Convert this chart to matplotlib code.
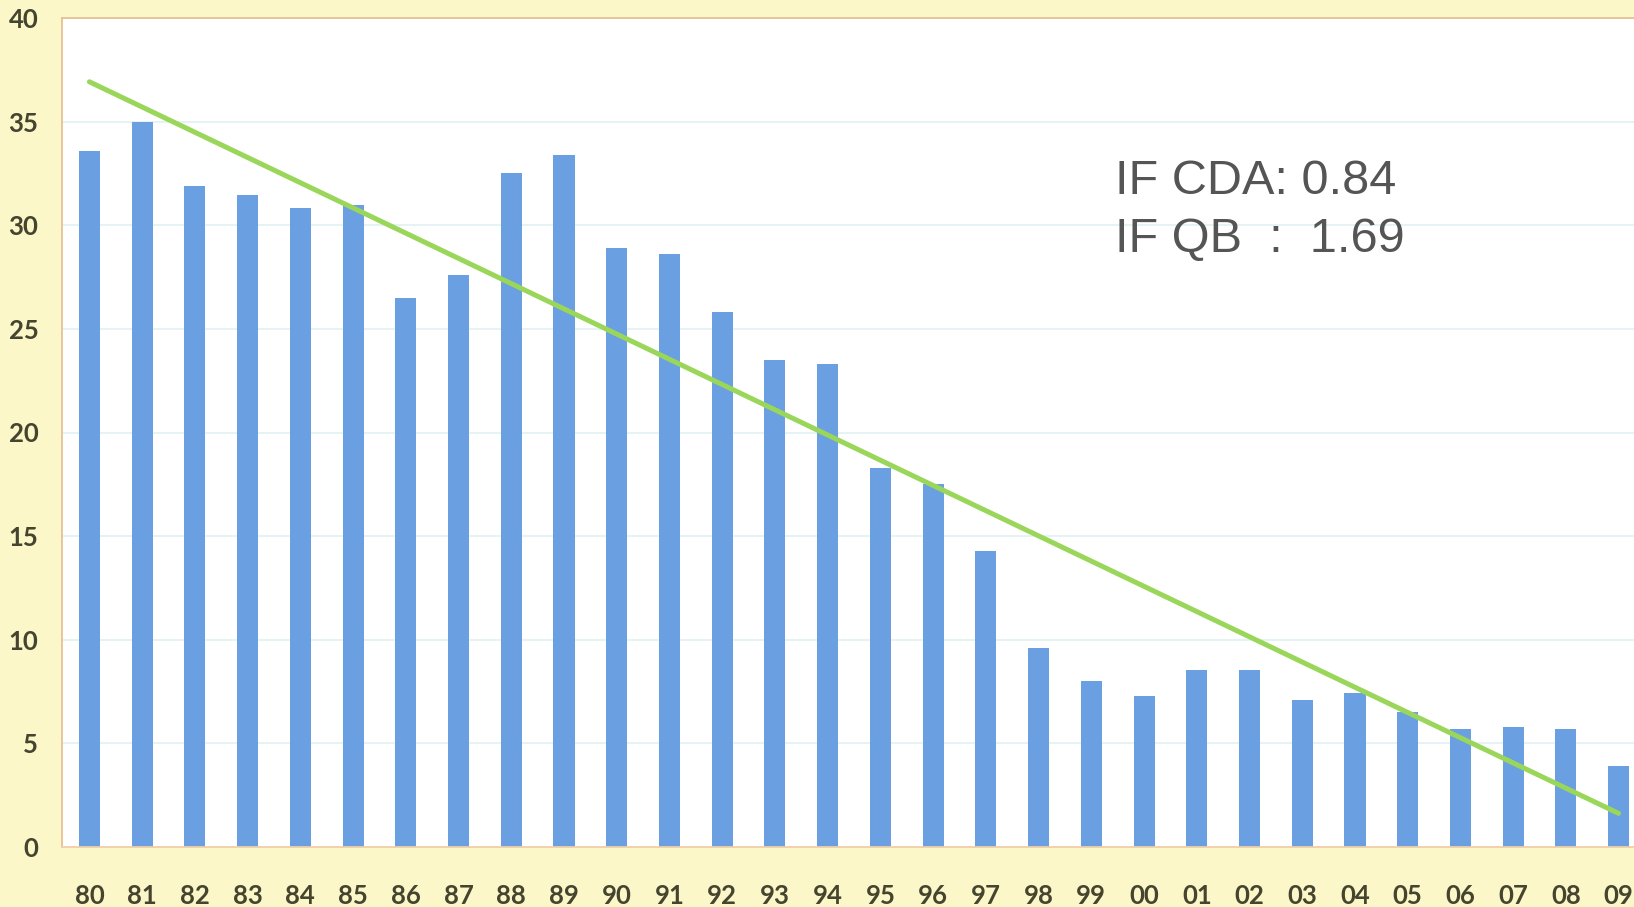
import numpy as np
import matplotlib
matplotlib.use('Agg')
import matplotlib.pyplot as plt

# years 1980 - 2009
years = ['80', '81', '82', '83', '84', '85', '86', '87', '88', '89',
         '90', '91', '92', '93', '94', '95', '96', '97', '98', '99',
         '00', '01', '02', '03', '04', '05', '06', '07', '08', '09']
values = [33.6, 35.0, 31.9, 31.45, 30.85, 31.0, 26.5, 27.6, 32.5, 33.4,
          28.9, 28.6, 25.8, 23.5, 23.3, 18.3, 17.5, 14.3, 9.6, 8.0,
          7.3, 8.55, 8.55, 7.1, 7.45, 6.5, 5.7, 5.8, 5.7, 3.9]
yticks = [0, 5, 10, 15, 20, 25, 30, 35, 40]
note_lines = ['IF CDA: 0.84', 'IF QB  :  1.69']

bg = '#fcf7c9'
fig = plt.figure(figsize=(16.34, 9.07), dpi=100, facecolor=bg)
ax = fig.add_axes([62 / 1634, 1 - 847 / 907, 1583 / 1634, 829 / 907])
ax.set_facecolor('white')

x = np.arange(len(years))
ax.bar(x, values, width=0.4, color='#6a9fe2', zorder=2)

# linear trend line
k, b = np.polyfit(x, values, 1)
ax.plot(x, k * x + b, color='#9ad65a', lw=3.6, zorder=3, solid_capstyle='round')

ax.set_xlim(-0.52, 29.5)
ax.set_ylim(0, 40)
ax.set_yticks(yticks)
ax.set_xticks(x)
ax.set_xticklabels(years)
ax.grid(axis='y', color='#e2f1f3', lw=1.2, zorder=0)

for lab in ax.get_xticklabels() + ax.get_yticklabels():
    lab.set_fontfamily(['Lato', 'DejaVu Sans'])
    lab.set_fontweight('bold')
    lab.set_fontsize(18.5)
    lab.set_color('#45452f')
ax.tick_params(axis='both', length=0)
ax.tick_params(axis='y', pad=17)
ax.tick_params(axis='x', pad=27)

for side in ['left', 'top']:
    ax.spines[side].set_color('#e9bf95')
    ax.spines[side].set_linewidth(1.3)
ax.spines['bottom'].set_color('#f0cfa8')
ax.spines['bottom'].set_linewidth(1.3)
ax.spines['right'].set_visible(False)

ax.text(0.665, 0.768, note_lines[0] + '\n' + note_lines[1], transform=ax.transAxes,
        fontsize=35, color='#555555', family=['Liberation Sans', 'DejaVu Sans'],
        va='center', ha='left', linespacing=1.38)

fig.savefig('out.png', dpi=100, facecolor=bg)
